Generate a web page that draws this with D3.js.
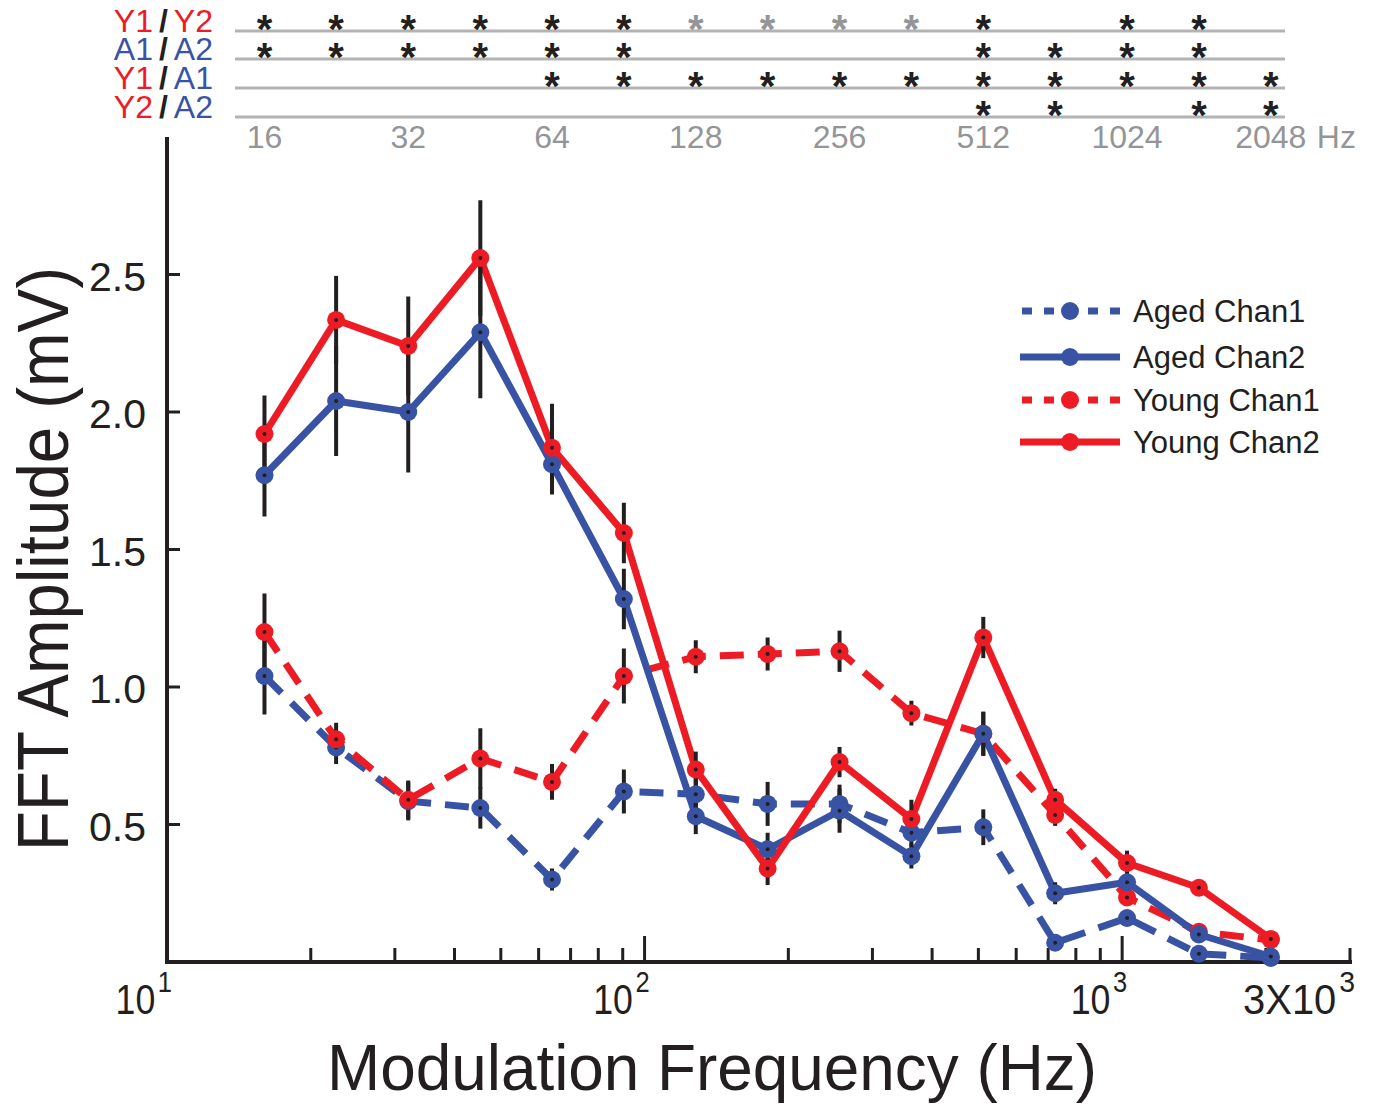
<!DOCTYPE html>
<html>
<head>
<meta charset="utf-8">
<script src="https://cdn.jsdelivr.net/npm/d3@7"></script>
<style>
  html, body { margin: 0; padding: 0; background: #ffffff; }
  svg { display: block; }
  text { font-family: "Liberation Sans", Arial, sans-serif; }
</style>
</head>
<body>
<svg id="chart" width="1376" height="1106"></svg>
<script>
// ---------------- data ----------------
const freqs = [16, 22.6, 32, 45.3, 64, 90.5, 128, 181, 256, 362, 512, 724, 1024, 1448, 2048];

const agedChan1    = [1.04, 0.78, 0.585, 0.56, 0.30, 0.62, 0.61, 0.575, 0.575, 0.47, 0.49, 0.07, 0.16, 0.03, 0.015];
const agedChan1Err = [0.14, 0.06, 0.07, 0.075, 0.04, 0.08, 0.06, 0.08, 0.07, 0.05, 0.065, 0.03, 0.03, 0, 0];
const agedChan2    = [1.77, 2.04, 2.0, 2.29, 1.81, 1.32, 0.53, 0.41, 0.55, 0.385, 0.83, 0.25, 0.29, 0.10, 0.02];
const agedChan2Err = [0.15, 0.2, 0.22, 0.24, 0.11, 0.11, 0.065, 0.06, 0.08, 0.045, 0.08, 0.04, 0.03, 0, 0];
const youngChan1    = [1.20, 0.81, 0.59, 0.74, 0.655, 1.04, 1.11, 1.12, 1.13, 0.905, 0.83, 0.535, 0.235, 0.11, 0.08];
const youngChan1Err = [0.14, 0.06, 0.07, 0.11, 0.065, 0.1, 0.06, 0.06, 0.075, 0.045, 0.08, 0.04, 0.03, 0, 0];
const youngChan2    = [1.92, 2.335, 2.24, 2.56, 1.87, 1.56, 0.70, 0.34, 0.727, 0.52, 1.18, 0.59, 0.36, 0.27, 0.084];
const youngChan2Err = [0.14, 0.16, 0.18, 0.21, 0.16, 0.11, 0.065, 0.06, 0.055, 0.07, 0.075, 0.04, 0.045, 0, 0];

const seriesNames = ["Aged Chan1", "Aged Chan2", "Young Chan1", "Young Chan2"];

const yTicks = [0.5, 1.0, 1.5, 2.0, 2.5];
const xMajorTicks = [10, 100, 1000, 3000];
const xMajorLabels = [["10", "1"], ["10", "2"], ["10", "3"], ["3X10", "3"]];
const xMinorTicks = [20, 30, 40, 50, 60, 70, 80, 90, 200, 300, 400, 500, 600, 700, 800, 900, 2000];

const topLabels = [16, 32, 64, 128, 256, 512, 1024, 2048];
const sigRowLabels = [["Y1", "Y2"], ["A1", "A2"], ["Y1", "A1"], ["Y2", "A2"]];
// 0 = none, 1 = black asterisk, 2 = grey asterisk
const sigY1Y2 = [1, 1, 1, 1, 1, 1, 2, 2, 2, 2, 1, 0, 1, 1, 0];
const sigA1A2 = [1, 1, 1, 1, 1, 1, 0, 0, 0, 0, 1, 1, 1, 1, 0];
const sigY1A1 = [0, 0, 0, 0, 1, 1, 1, 1, 1, 1, 1, 1, 1, 1, 1];
const sigY2A2 = [0, 0, 0, 0, 0, 0, 0, 0, 0, 0, 1, 1, 0, 1, 1];

// ---------------- setup ----------------
const RED = "#ed1c24", BLUE = "#3953a4", INK = "#231f20", GREY = "#939598", LINEGREY = "#b3b3b3";
const svg = d3.select("#chart");

const x = d3.scaleLog().domain([10, 3000]).range([167, 1350]);
const y = d3.scaleLinear().domain([0, 3]).range([962, 137]);

const series = [
  { name: seriesNames[0], vals: agedChan1,  err: agedChan1Err,  color: BLUE, dashed: true },
  { name: seriesNames[1], vals: agedChan2,  err: agedChan2Err,  color: BLUE, dashed: false },
  { name: seriesNames[2], vals: youngChan1, err: youngChan1Err, color: RED,  dashed: true },
  { name: seriesNames[3], vals: youngChan2, err: youngChan2Err, color: RED,  dashed: false }
];
const colorOf = { Y1: RED, Y2: RED, A1: BLUE, A2: BLUE };

// ---------------- significance table ----------------
const sigRows = [sigY1Y2, sigA1A2, sigY1A1, sigY2A2];
const rowLineY = [31, 59, 88, 117];
const topG = svg.append("g");
sigRows.forEach((row, r) => {
  topG.append("line")
    .attr("x1", 235).attr("x2", 1285)
    .attr("y1", rowLineY[r]).attr("y2", rowLineY[r])
    .attr("stroke", LINEGREY).attr("stroke-width", 3);
  const lab = topG.append("text")
    .attr("x", 213).attr("y", rowLineY[r] + 1)
    .attr("text-anchor", "end")
    .attr("font-size", 32);
  lab.append("tspan").attr("fill", colorOf[sigRowLabels[r][0]]).text(sigRowLabels[r][0]);
  lab.append("tspan").attr("fill", INK).attr("font-weight", "bold").attr("dx", 6).text("/");
  lab.append("tspan").attr("fill", colorOf[sigRowLabels[r][1]]).attr("dx", 6).text(sigRowLabels[r][1]);
  row.forEach((s, i) => {
    if (!s) return;
    topG.append("text")
      .attr("x", x(freqs[i])).attr("y", rowLineY[r] + 12)
      .attr("text-anchor", "middle")
      .attr("font-size", 40).attr("font-weight", "bold")
      .attr("fill", s === 1 ? INK : GREY)
      .text("*");
  });
});
topLabels.forEach(f => {
  topG.append("text")
    .attr("x", x(f)).attr("y", 148)
    .attr("text-anchor", "middle")
    .attr("font-size", 32).attr("fill", GREY)
    .text(f);
});
topG.append("text")
  .attr("x", x(2048) + 46).attr("y", 148)
  .attr("font-size", 32).attr("fill", GREY)
  .text("Hz");

// ---------------- axes ----------------
const axes = svg.append("g");
axes.append("line").attr("x1", 167).attr("x2", 167).attr("y1", 137).attr("y2", 964)
  .attr("stroke", INK).attr("stroke-width", 4);
axes.append("line").attr("x1", 165).attr("x2", 1352).attr("y1", 962).attr("y2", 962)
  .attr("stroke", INK).attr("stroke-width", 4);

yTicks.forEach(t => {
  axes.append("line").attr("x1", 167).attr("x2", 180).attr("y1", y(t)).attr("y2", y(t))
    .attr("stroke", INK).attr("stroke-width", 3);
  axes.append("text").attr("x", 146).attr("y", y(t) + 16)
    .attr("text-anchor", "end").attr("font-size", 41).attr("fill", INK)
    .text(d3.format(".1f")(t));
});

xMinorTicks.forEach(t => {
  axes.append("line").attr("x1", x(t)).attr("x2", x(t)).attr("y1", 962).attr("y2", 948)
    .attr("stroke", INK).attr("stroke-width", 3);
});
xMajorTicks.forEach((t, i) => {
  const len = (t === 100 || t === 1000) ? 26 : 14;
  if (t !== 10) {
    axes.append("line").attr("x1", x(t)).attr("x2", x(t)).attr("y1", 962).attr("y2", 962 - len)
      .attr("stroke", INK).attr("stroke-width", 3);
  }
  const sx = t === 3000 ? 0.95 : 0.85;
  const g = axes.append("g").attr("transform", `translate(${x(t) + 5},1014) scale(${sx},1)`);
  const tx = g.append("text").attr("x", 0).attr("y", 0)
    .attr("text-anchor", "end").attr("fill", INK);
  tx.append("tspan").attr("font-size", 42).text(xMajorLabels[i][0]);
  tx.append("tspan").attr("font-size", 30).attr("dx", 3).attr("dy", -22).text(xMajorLabels[i][1]);
});

// axis titles
svg.append("text")
  .attr("x", 712).attr("y", 1090)
  .attr("text-anchor", "middle").attr("font-size", 64).attr("fill", INK)
  .attr("textLength", 770).attr("lengthAdjust", "spacingAndGlyphs")
  .text("Modulation Frequency (Hz)");
svg.append("text")
  .attr("transform", "translate(68,559) rotate(-90)")
  .attr("text-anchor", "middle").attr("font-size", 72).attr("fill", INK)
  .attr("textLength", 584).attr("lengthAdjust", "spacingAndGlyphs")
  .text("FFT Amplitude (mV)");

// ---------------- data lines ----------------
const plot = svg.append("g");
const lineGen = d3.line().x(d => x(d[0])).y(d => y(d[1]));
const drawOrder = [0, 2, 1, 3];
drawOrder.forEach(k => {
  const s = series[k];
  plot.append("path")
    .datum(freqs.map((f, i) => [f, s.vals[i]]))
    .attr("d", lineGen)
    .attr("fill", "none")
    .attr("stroke", s.color)
    .attr("stroke-width", 7)
    .attr("stroke-linejoin", "round")
    .attr("stroke-dasharray", s.dashed ? "24,14" : null);
});
// error bars
series.forEach(s => {
  freqs.forEach((f, i) => {
    if (!s.err[i]) return;
    plot.append("line")
      .attr("x1", x(f)).attr("x2", x(f))
      .attr("y1", y(s.vals[i] - s.err[i])).attr("y2", y(s.vals[i] + s.err[i]))
      .attr("stroke", INK).attr("stroke-width", 4);
  });
});
// markers
drawOrder.forEach(k => {
  const s = series[k];
  freqs.forEach((f, i) => {
    plot.append("circle").attr("cx", x(f)).attr("cy", y(s.vals[i])).attr("r", 9)
      .attr("fill", s.color);
    plot.append("circle").attr("cx", x(f)).attr("cy", y(s.vals[i])).attr("r", 2)
      .attr("fill", INK);
  });
});

// ---------------- legend ----------------
const legY = [311, 357, 400, 442];
const leg = svg.append("g");
series.forEach((s, k) => {
  leg.append("line")
    .attr("x1", s.dashed ? 1022 : 1020).attr("x2", 1120).attr("y1", legY[k]).attr("y2", legY[k])
    .attr("stroke", s.color).attr("stroke-width", 7)
    .attr("stroke-dasharray", s.dashed ? "10,12" : null);
  leg.append("circle").attr("cx", 1070).attr("cy", legY[k]).attr("r", 9).attr("fill", s.color);
  leg.append("text").attr("x", 1133).attr("y", legY[k] + 11)
    .attr("font-size", 31).attr("fill", INK).text(s.name);
});
</script>
</body>
</html>
